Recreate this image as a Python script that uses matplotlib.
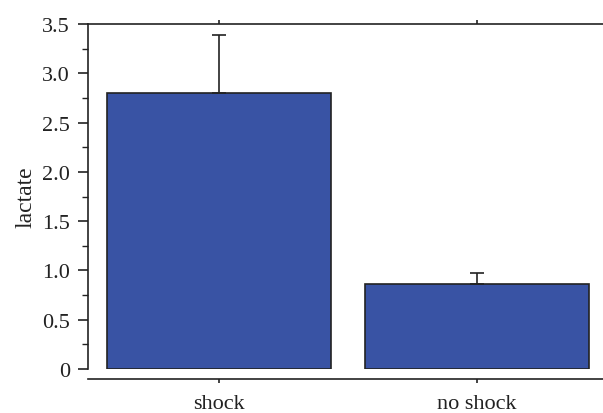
import matplotlib
matplotlib.use("Agg")
import matplotlib.pyplot as plt
from matplotlib.ticker import MultipleLocator

categories = ["shock", "no shock"]
values = [2.80, 0.86]
errors_upper = [0.59, 0.11]
y_ticks = [0, 0.5, 1.0, 1.5, 2.0, 2.5, 3.0, 3.5]
y_tick_labels = ["0", "0.5", "1.0", "1.5", "2.0", "2.5", "3.0", "3.5"]
y_label = "lactate"

plt.rcParams['font.family'] = ['Liberation Serif', 'DejaVu Serif']

fig = plt.figure(figsize=(6.03, 4.14), dpi=100)
ax = fig.add_axes([88/603, 1-370/414, 1-88/603, (370-25)/414])

x = list(range(len(categories)))
ax.bar(x, values, width=0.87, color="#3953A4", edgecolor="#222222", linewidth=1.2,
       yerr=[[0]*len(values), errors_upper], capsize=5,
       error_kw=dict(elinewidth=1.2, capthick=1.2, ecolor="#222222"), zorder=2)

ax.set_xlim(-0.51, 1.49)
ax.set_ylim(0, 3.5)
ax.set_xticks(x)
ax.set_xticklabels(categories)
ax.yaxis.set_minor_locator(MultipleLocator(0.25))
ax.set_yticks(y_ticks)
ax.set_yticklabels(y_tick_labels)
ax.set_ylabel(y_label, fontsize=17, labelpad=4, color="#222222")

for s in ["left", "bottom", "top"]:
    ax.spines[s].set_linewidth(1.2)
    ax.spines[s].set_color("#222222")
ax.spines["right"].set_visible(False)
ax.spines["bottom"].set_position(("outward", 7))
ax.tick_params(axis="y", which="major", length=7, width=1.2, color="#222222", direction="out",
               pad=6, labelsize=16, labelcolor="#222222")
ax.tick_params(axis="y", which="minor", length=4.5, width=1.0, color="#222222", direction="out")
ax.tick_params(axis="x", which="major", length=3, width=1.2, color="#222222", direction="out",
               top=True, pad=8, labelsize=16, labelcolor="#222222")

fig.savefig("out.png", dpi=100)
